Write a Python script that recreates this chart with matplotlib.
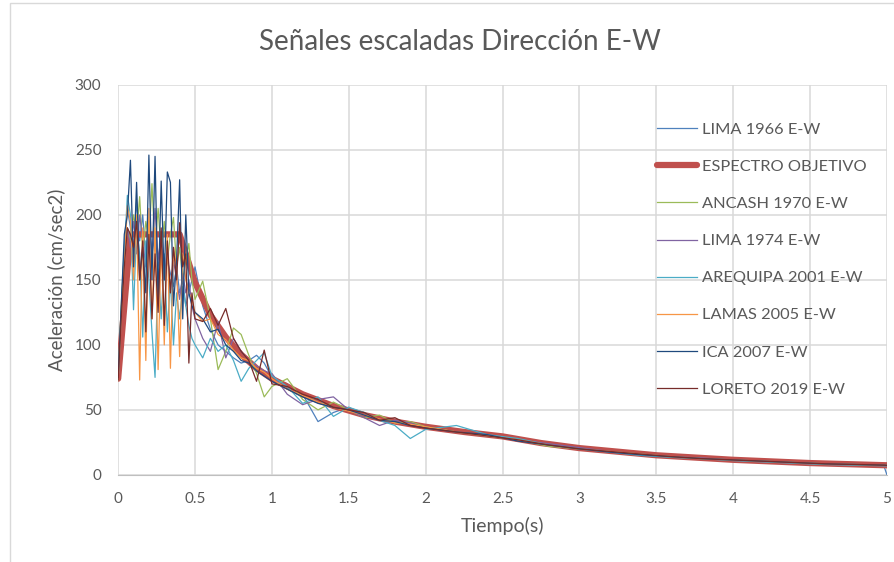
import matplotlib
matplotlib.use("Agg")
import matplotlib.pyplot as plt
from matplotlib.patches import Rectangle

plt.rcParams['font.family'] = ['Lato', 'DejaVu Sans']

# period grid shared by the records (s)
T = [0, 0.02, 0.04, 0.06, 0.08, 0.10, 0.12, 0.14, 0.16, 0.18,
     0.20, 0.22, 0.24, 0.26, 0.28, 0.30, 0.32, 0.34, 0.36, 0.38,
     0.40, 0.42, 0.44, 0.46, 0.48, 0.50, 0.55, 0.60, 0.65, 0.70,
     0.75, 0.80, 0.85, 0.90, 0.95, 1.0, 1.1, 1.2, 1.3, 1.4,
     1.5, 1.6, 1.7, 1.8, 1.9, 2.0, 2.2, 2.4, 2.6, 2.8,
     3.0, 3.2, 3.4, 3.6, 3.8, 4.0, 4.2, 4.4, 4.6, 4.8,
     4.98, 5.0]

lima66 = [73, 125, 175, 205, 190, 175, 210, 180, 200, 165,
          195, 170, 185, 160, 175, 150, 165, 155, 145, 160,
          140, 150, 130, 140, 150, 160, 130, 112, 100, 95,
          90, 86, 88, 92, 86, 75, 70, 62, 41, 48,
          52, 46, 44, 42, 38, 37, 33, 31, 26, 24,
          20, 18, 15, 14, 12.5, 11.5, 10.5, 9, 8.5, 8,
          7, 0]
ancash70 = [73, 130, 170, 190, 180, 200, 185, 214, 170, 195,
            180, 224, 175, 205, 170, 195, 165, 185, 198, 160,
            175, 150, 165, 178, 150, 135, 149, 120, 81, 95,
            113, 108, 92, 78, 60, 68, 74, 58, 50, 56,
            50, 44, 46, 40, 41, 37, 33, 30, 27, 22,
            20, 18, 16, 14, 12.5, 11.5, 10.5, 9.5, 8.5, 8,
            7.5, 7.3]
lima74 = [73, 120, 165, 190, 175, 195, 170, 200, 180, 160,
          190, 170, 205, 165, 185, 150, 175, 140, 165, 150,
          135, 155, 140, 150, 130, 120, 105, 95, 118, 90,
          105, 95, 88, 84, 80, 78, 62, 54, 58, 60,
          50, 44, 38, 42, 40, 36, 33, 30, 27, 24,
          21, 18, 16, 14, 13, 11.5, 10.5, 9.5, 8.5, 8,
          7.5, 7.3]
arequipa01 = [73, 125, 170, 215, 200, 127, 190, 170, 106, 180,
              150, 110, 75, 160, 120, 170, 110, 150, 100, 140,
              120, 145, 130, 115, 105, 100, 90, 105, 95, 100,
              88, 72, 82, 88, 94, 76, 68, 55, 60, 45,
              52, 48, 42, 38, 28, 35, 38, 31, 28, 23,
              20, 17.5, 15, 13.5, 12.5, 11, 10, 9, 8, 7.5,
              7, 7]
lamas05 = [73, 120, 160, 207, 195, 150, 200, 73, 190, 88,
           205, 120, 190, 81, 180, 100, 185, 82, 175, 160,
           91, 170, 150, 140, 135, 125, 118, 120, 108, 104,
           96, 90, 88, 82, 79, 74, 66, 61, 56, 52,
           49, 46, 43, 40, 39, 37, 33, 30, 27, 23,
           20, 18, 16, 14, 12.5, 11.5, 10.5, 9.5, 8.5, 8,
           7.5, 7.3]
ica07 = [75, 130, 185, 200, 242, 160, 225, 150, 175, 140,
         246, 150, 245, 135, 226, 150, 233, 225, 130, 165,
         227, 120, 200, 140, 130, 125, 120, 110, 112, 100,
         95, 88, 86, 80, 76, 72, 66, 60, 55, 52,
         50, 46, 42, 41, 38, 36, 33, 31, 26, 23,
         20, 17.5, 15.5, 14, 12.5, 11.5, 10.5, 9.5, 8.5, 8,
         7.5, 7.3]
loreto19 = [73, 120, 160, 190, 185, 175, 195, 150, 180, 110,
            185, 120, 170, 125, 190, 115, 180, 140, 175, 150,
            194, 160, 170, 86, 140, 120, 118, 128, 115, 128,
            105, 95, 88, 72, 96, 70, 68, 62, 58, 52,
            50, 48, 42, 44, 38, 36, 33, 30, 27, 23,
            20, 18, 16, 14, 12.5, 11.5, 10.5, 9.5, 8.5, 8,
            7.5, 7.3]

# target spectrum
T_obj = [0, 0.08, 0.4, 0.5, 0.6, 0.7, 0.8, 0.9, 1.0, 1.2, 1.4, 1.6, 1.8,
         2.0, 2.25, 2.5, 2.75, 3.0, 3.5, 4.0, 4.5, 5.0]
espectro = [74, 185, 185, 148, 123, 106, 92.5, 82, 74, 62, 53, 46, 41,
            37, 33, 29.6, 24.5, 20.6, 15.1, 11.6, 9.1, 7.4]

fig = plt.figure(figsize=(8.95, 5.62), dpi=100)
ax = fig.add_axes([0.132, 0.155, 0.859, 0.694])

ax.plot(T, lima66, color='#4F81BD', lw=0.9, label='LIMA 1966 E-W')
ax.plot(T_obj, espectro, color='#C0504D', lw=4.5, solid_capstyle='round',
        label='ESPECTRO OBJETIVO')
ax.plot(T, ancash70, color='#9BBB59', lw=0.9, label='ANCASH 1970 E-W')
ax.plot(T, lima74, color='#8064A2', lw=0.9, label='LIMA 1974 E-W')
ax.plot(T, arequipa01, color='#4BACC6', lw=0.9, label='AREQUIPA 2001 E-W')
ax.plot(T, lamas05, color='#F79646', lw=0.9, label='LAMAS 2005 E-W')
ax.plot(T, ica07, color='#1F497D', lw=0.9, label='ICA 2007 E-W')
ax.plot(T, loreto19, color='#772C2A', lw=0.9, label='LORETO 2019 E-W')

ax.set_xlim(0, 5)
ax.set_ylim(0, 300)
ax.set_xticks([0, 0.5, 1, 1.5, 2, 2.5, 3, 3.5, 4, 4.5, 5])
ax.set_xticklabels(['0', '0.5', '1', '1.5', '2', '2.5', '3', '3.5', '4', '4.5', '5'])
ax.set_yticks(range(0, 301, 50))
ax.grid(True, color='#D9D9D9', lw=1.1)
ax.set_axisbelow(True)
for s in ['top', 'right', 'left']:
    ax.spines[s].set_visible(False)
ax.spines['bottom'].set_color('#BFBFBF')
ax.tick_params(length=0, labelsize=11, colors='#595959', pad=12)

ax.set_xlabel('Tiempo(s)', fontsize=14, color='#595959', labelpad=8)
ax.set_ylabel('Aceleración (cm/sec2)', fontsize=13.5, color='#595959', labelpad=7)
fig.text(0.514, 0.925, 'Señales escaladas Dirección E-W', fontsize=20,
         color='#595959', ha='center', va='center')

leg = ax.legend(loc='upper left', bbox_to_anchor=(657 / 895, 1 - 122.5 / 562),
                bbox_transform=fig.transFigure, frameon=False, fontsize=11.8,
                handlelength=2.45, handletextpad=0.3, labelspacing=1.38,
                borderpad=0, borderaxespad=0)
for t in leg.get_texts():
    t.set_color('#595959')

fig.patches.append(Rectangle((10 / 895, -0.01), 1.0, 1 - 3 / 562 + 0.01,
                             transform=fig.transFigure, fill=False,
                             edgecolor='#D9D9D9', lw=1))

plt.savefig('out.png', dpi=100)
